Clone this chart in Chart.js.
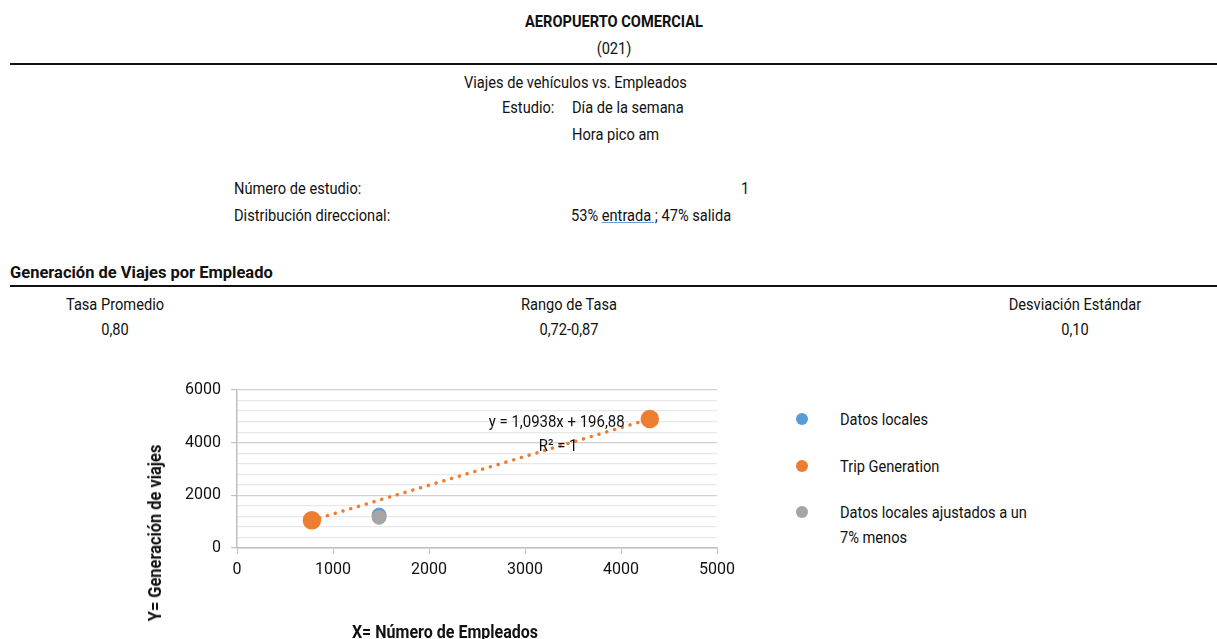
<!DOCTYPE html>
<html>
<head>
<meta charset="utf-8">
<script src="https://cdn.jsdelivr.net/npm/chart.js@4.4.1/dist/chart.umd.min.js"></script>
<style>
  body { margin: 0; width: 1217px; height: 639px; background: #fff; position: relative; overflow: hidden;
         font-family: "Roboto", sans-serif; font-size: 17px; color: #111; }
  .t { position: absolute; line-height: 20px; white-space: nowrap; transform-origin: left center; transform: scaleX(0.86); }
  .c { transform-origin: center center; transform: translateX(-50%) scaleX(0.86); }
  .b { font-weight: bold; }
  .rule { position: absolute; left: 10px; right: 0; height: 2px; background: #111; }
  .dot { position: absolute; width: 12px; height: 12px; border-radius: 50%; }
  #chart { position: absolute; left: 140px; top: 370px; }
</style>
</head>
<body>
<div class="t c b" style="left:614px; top:11px;">AEROPUERTO COMERCIAL</div>
<div class="t c" style="left:614px; top:38px;">(021)</div>
<div class="rule" style="top:63px;"></div>
<div class="t" style="left:464px; top:72px;">Viajes de vehículos vs. Empleados</div>
<div class="t" style="left:502px; top:97px;">Estudio:</div>
<div class="t" style="left:572px; top:97px;">Día de la semana</div>
<div class="t" style="left:572px; top:124px;">Hora pico am</div>
<div class="t" style="left:234px; top:178px;">Número de estudio:</div>
<div class="t c" style="left:745px; top:178px;">1</div>
<div class="t" style="left:234px; top:205px;">Distribución direccional:</div>
<div class="t" style="left:571px; top:205px;">53% <span style="text-decoration: underline; text-decoration-color: #6a9ad8;">entrada ;</span> 47% salida</div>
<div class="t b" style="left:10px; top:262px; transform: scaleX(0.97);">Generación de Viajes por Empleado</div>
<div class="rule" style="top:285px;"></div>
<div class="t c" style="left:115px; top:294px;">Tasa Promedio</div>
<div class="t c" style="left:115px; top:319px;">0,80</div>
<div class="t c" style="left:569px; top:294px;">Rango de Tasa</div>
<div class="t c" style="left:569px; top:319px;">0,72-0,87</div>
<div class="t c" style="left:1075px; top:294px;">Desviación Estándar</div>
<div class="t c" style="left:1075px; top:319px;">0,10</div>

<canvas id="chart" width="620" height="269"></canvas>

<div class="t b" style="left:155px; top:533px; font-size:18px; transform-origin: center center; transform: translate(-50%, -50%) rotate(-90deg) scaleX(0.91);">Y= Generación de viajes</div>
<div class="t c b" style="left:445px; top:622px; font-size:18px; transform: translateX(-50%) scaleX(0.89);">X= Número de Empleados</div>

<div class="dot" style="left:796px; top:413px; background:#5b9bd5;"></div>
<div class="t" style="left:840px; top:409px;">Datos locales</div>
<div class="dot" style="left:796px; top:460px; background:#ed7d31;"></div>
<div class="t" style="left:840px; top:456px;">Trip Generation</div>
<div class="dot" style="left:796px; top:506px; background:#a5a5a5;"></div>
<div class="t" style="left:840px; top:502px;">Datos locales ajustados a un</div>
<div class="t" style="left:840px; top:527px;">7% menos</div>

<script>
const fontFamily = 'Roboto, sans-serif';

// series values
const localX = [1480];
const localY = [1250];
const tripX = [780, 4300];
const tripY = [1050, 4900];
const adjX = [1480];
const adjY = [1165];

const xTicks = [0, 1000, 2000, 3000, 4000, 5000];
const yMajor = [0, 2000, 4000, 6000];
const trendText = ['y = 1,0938x + 196,88', 'R² = 1'];

const pts = (xs, ys) => xs.map((x, i) => ({ x, y: ys[i] }));

// equation label next to the trend line, squeezed like the narrow font of the original
const trendLabel = {
    id: 'trendLabel',
    afterDatasetsDraw(chart) {
        const { ctx, scales: { x, y } } = chart;
        const put = (txt, xv, yv) => {
            ctx.save();
            ctx.translate(x.getPixelForValue(xv), y.getPixelForValue(yv));
            ctx.scale(0.88, 1);
            ctx.fillText(txt, 0, 0);
            ctx.restore();
        };
        ctx.save();
        ctx.font = '17px ' + fontFamily;
        ctx.fillStyle = '#111';
        ctx.textAlign = 'center';
        ctx.textBaseline = 'middle';
        put(trendText[0], 3330, 4750);
        put(trendText[1], 3345, 3840);
        ctx.restore();
    }
};

new Chart(document.getElementById('chart'), {
    type: 'scatter',
    data: {
        datasets: [
            { label: 'Datos locales', data: pts(localX, localY), backgroundColor: '#5b9bd5', borderColor: '#5b9bd5', pointRadius: 7, order: 3 },
            { label: 'Trip Generation', data: pts(tripX, tripY), backgroundColor: '#ed7d31', borderColor: '#ed7d31',
              pointRadius: 7.5, showLine: true, borderWidth: 3.5, borderDash: [0.1, 8], borderCapStyle: 'round', order: 2 },
            { label: 'Datos locales ajustados a un 7% menos', data: pts(adjX, adjY), backgroundColor: '#a5a5a5', borderColor: '#a5a5a5', pointRadius: 7, order: 1 }
        ]
    },
    options: {
        responsive: false,
        animation: false,
        layout: { padding: { top: 20, right: 43, bottom: 0, left: 0 } },
        plugins: { legend: { display: false }, tooltip: { enabled: false } },
        scales: {
            x: {
                type: 'linear', min: 0, max: 5000,
                afterFit: s => { s.height = 91; },
                afterBuildTicks: s => { s.ticks = xTicks.map(v => ({ value: v })); },
                ticks: { color: '#111', font: { family: fontFamily, size: 16 }, padding: 6, callback: v => String(v) },
                grid: { drawOnChartArea: false, tickLength: 6, tickColor: '#bfbfbf' },
                border: { color: '#bfbfbf', width: 1.5 }
            },
            y: {
                min: 0, max: 6000,
                afterFit: s => { s.width = 97; },
                ticks: {
                    stepSize: 400, autoSkip: false,
                    color: '#111', font: { family: fontFamily, size: 16 }, padding: 10,
                    callback: v => yMajor.includes(v) ? String(v) : ''
                },
                grid: {
                    tickLength: 6,
                    color: c => yMajor.includes(c.tick.value) ? '#d0d0d0' : '#e8e8e8',
                    tickColor: c => yMajor.includes(c.tick.value) ? '#bfbfbf' : 'rgba(0,0,0,0)',
                    lineWidth: 1.2
                },
                border: { color: '#bfbfbf', width: 1.5 }
            }
        }
    },
    plugins: [trendLabel]
});
</script>
</body>
</html>
